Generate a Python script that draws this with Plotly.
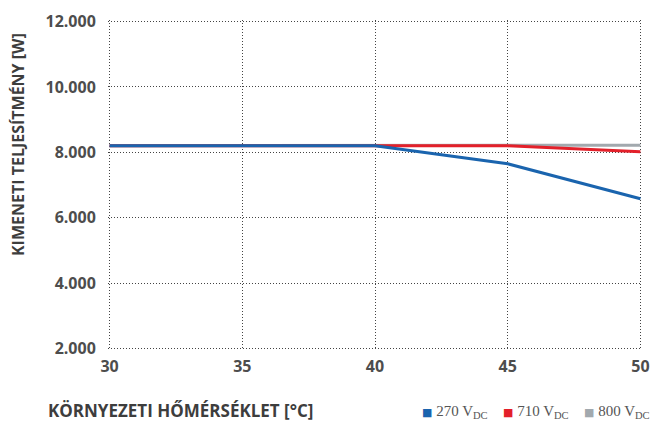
import plotly.graph_objects as go

temps = [30, 35, 40, 45, 50]
p270 = [8200, 8200, 8200, 7650, 6580]
p710 = [8200, 8200, 8200, 8200, 8020]
p800 = [8200, 8200, 8200, 8200, 8220]
x_ticks = [30, 35, 40, 45, 50]
y_ticks = [2000, 4000, 6000, 8000, 10000, 12000]

series = [
    ("800 V<sub>DC</sub>", p800, "#a2a9ae"),
    ("710 V<sub>DC</sub>", p710, "#e3202a"),
    ("270 V<sub>DC</sub>", p270, "#1a64ae"),
]
legend_order = ["270 V<sub>DC</sub>", "710 V<sub>DC</sub>", "800 V<sub>DC</sub>"]
legend_x = [421, 502, 583]

fig = go.Figure()
for name, vals, col in series:
    fig.add_trace(go.Scatter(x=temps, y=vals, mode="lines", name=name,
                             line=dict(color=col, width=3), showlegend=False,
                             hoverinfo="skip"))
colors = {n: c for n, _, c in series}

L, R, T, B = 108, 12, 20, 71
W, H = 654, 421
pw, ph = W - L - R, H - T - B

def px_to_paper_x(px):
    return (px - L) / pw

def px_to_paper_y(py):
    return (H - B - py) / ph

tickfont = dict(family="Open Sans", size=16, color="#4d4d4d", weight="bold")
annotations = [
    dict(text="KÖRNYEZETI HŐMÉRSÉKLET [°C]", xref="paper", yref="paper",
         x=px_to_paper_x(47), y=px_to_paper_y(410), xanchor="left", yanchor="middle",
         showarrow=False, borderpad=0,
         font=dict(family="Open Sans", size=17, color="#3d3d3d", weight="bold")),
    dict(text="KIMENETI TELJESÍTMÉNY [W]", xref="paper", yref="paper", textangle=-90,
         x=px_to_paper_x(18), y=px_to_paper_y(145), xanchor="center", yanchor="middle",
         showarrow=False,
         font=dict(family="Open Sans", size=16, color="#3d3d3d", weight="bold")),
]
for name, lx in zip(legend_order, legend_x):
    annotations.append(dict(
        text=f"<span style='color:{colors[name]};font-size:11px;font-family:DejaVu Sans'>■</span> {name}",
        xref="paper", yref="paper", x=px_to_paper_x(lx), y=px_to_paper_y(412),
        xanchor="left", yanchor="middle", showarrow=False, borderpad=0,
        font=dict(family="Liberation Serif", size=15, color="#555555")))

fig.update_layout(
    width=W, height=H,
    margin=dict(l=L, r=R, t=T, b=B),
    plot_bgcolor="white", paper_bgcolor="white",
    separators=",.",
    showlegend=False,
    xaxis=dict(range=[29.94, 50.06], tickvals=x_ticks, showgrid=True, gridcolor="#444444",
               griddash="1px,2px", gridwidth=1, zeroline=False, showline=False,
               tickfont=tickfont, ticks="outside", ticklen=2, tickcolor="rgba(0,0,0,0)",
               automargin=False),
    yaxis=dict(range=[1950, 12050], tickvals=y_ticks, tickformat=",d", showgrid=True,
               gridcolor="#444444", griddash="1px,2px", gridwidth=1, zeroline=False,
               showline=False, tickfont=tickfont, ticks="outside", ticklen=8,
               tickcolor="rgba(0,0,0,0)", automargin=False),
    annotations=annotations,
)
fig.write_html("out.html", config={"displayModeBar": False},
               post_script="document.body.style.margin='0';document.body.style.overflow='hidden';")
